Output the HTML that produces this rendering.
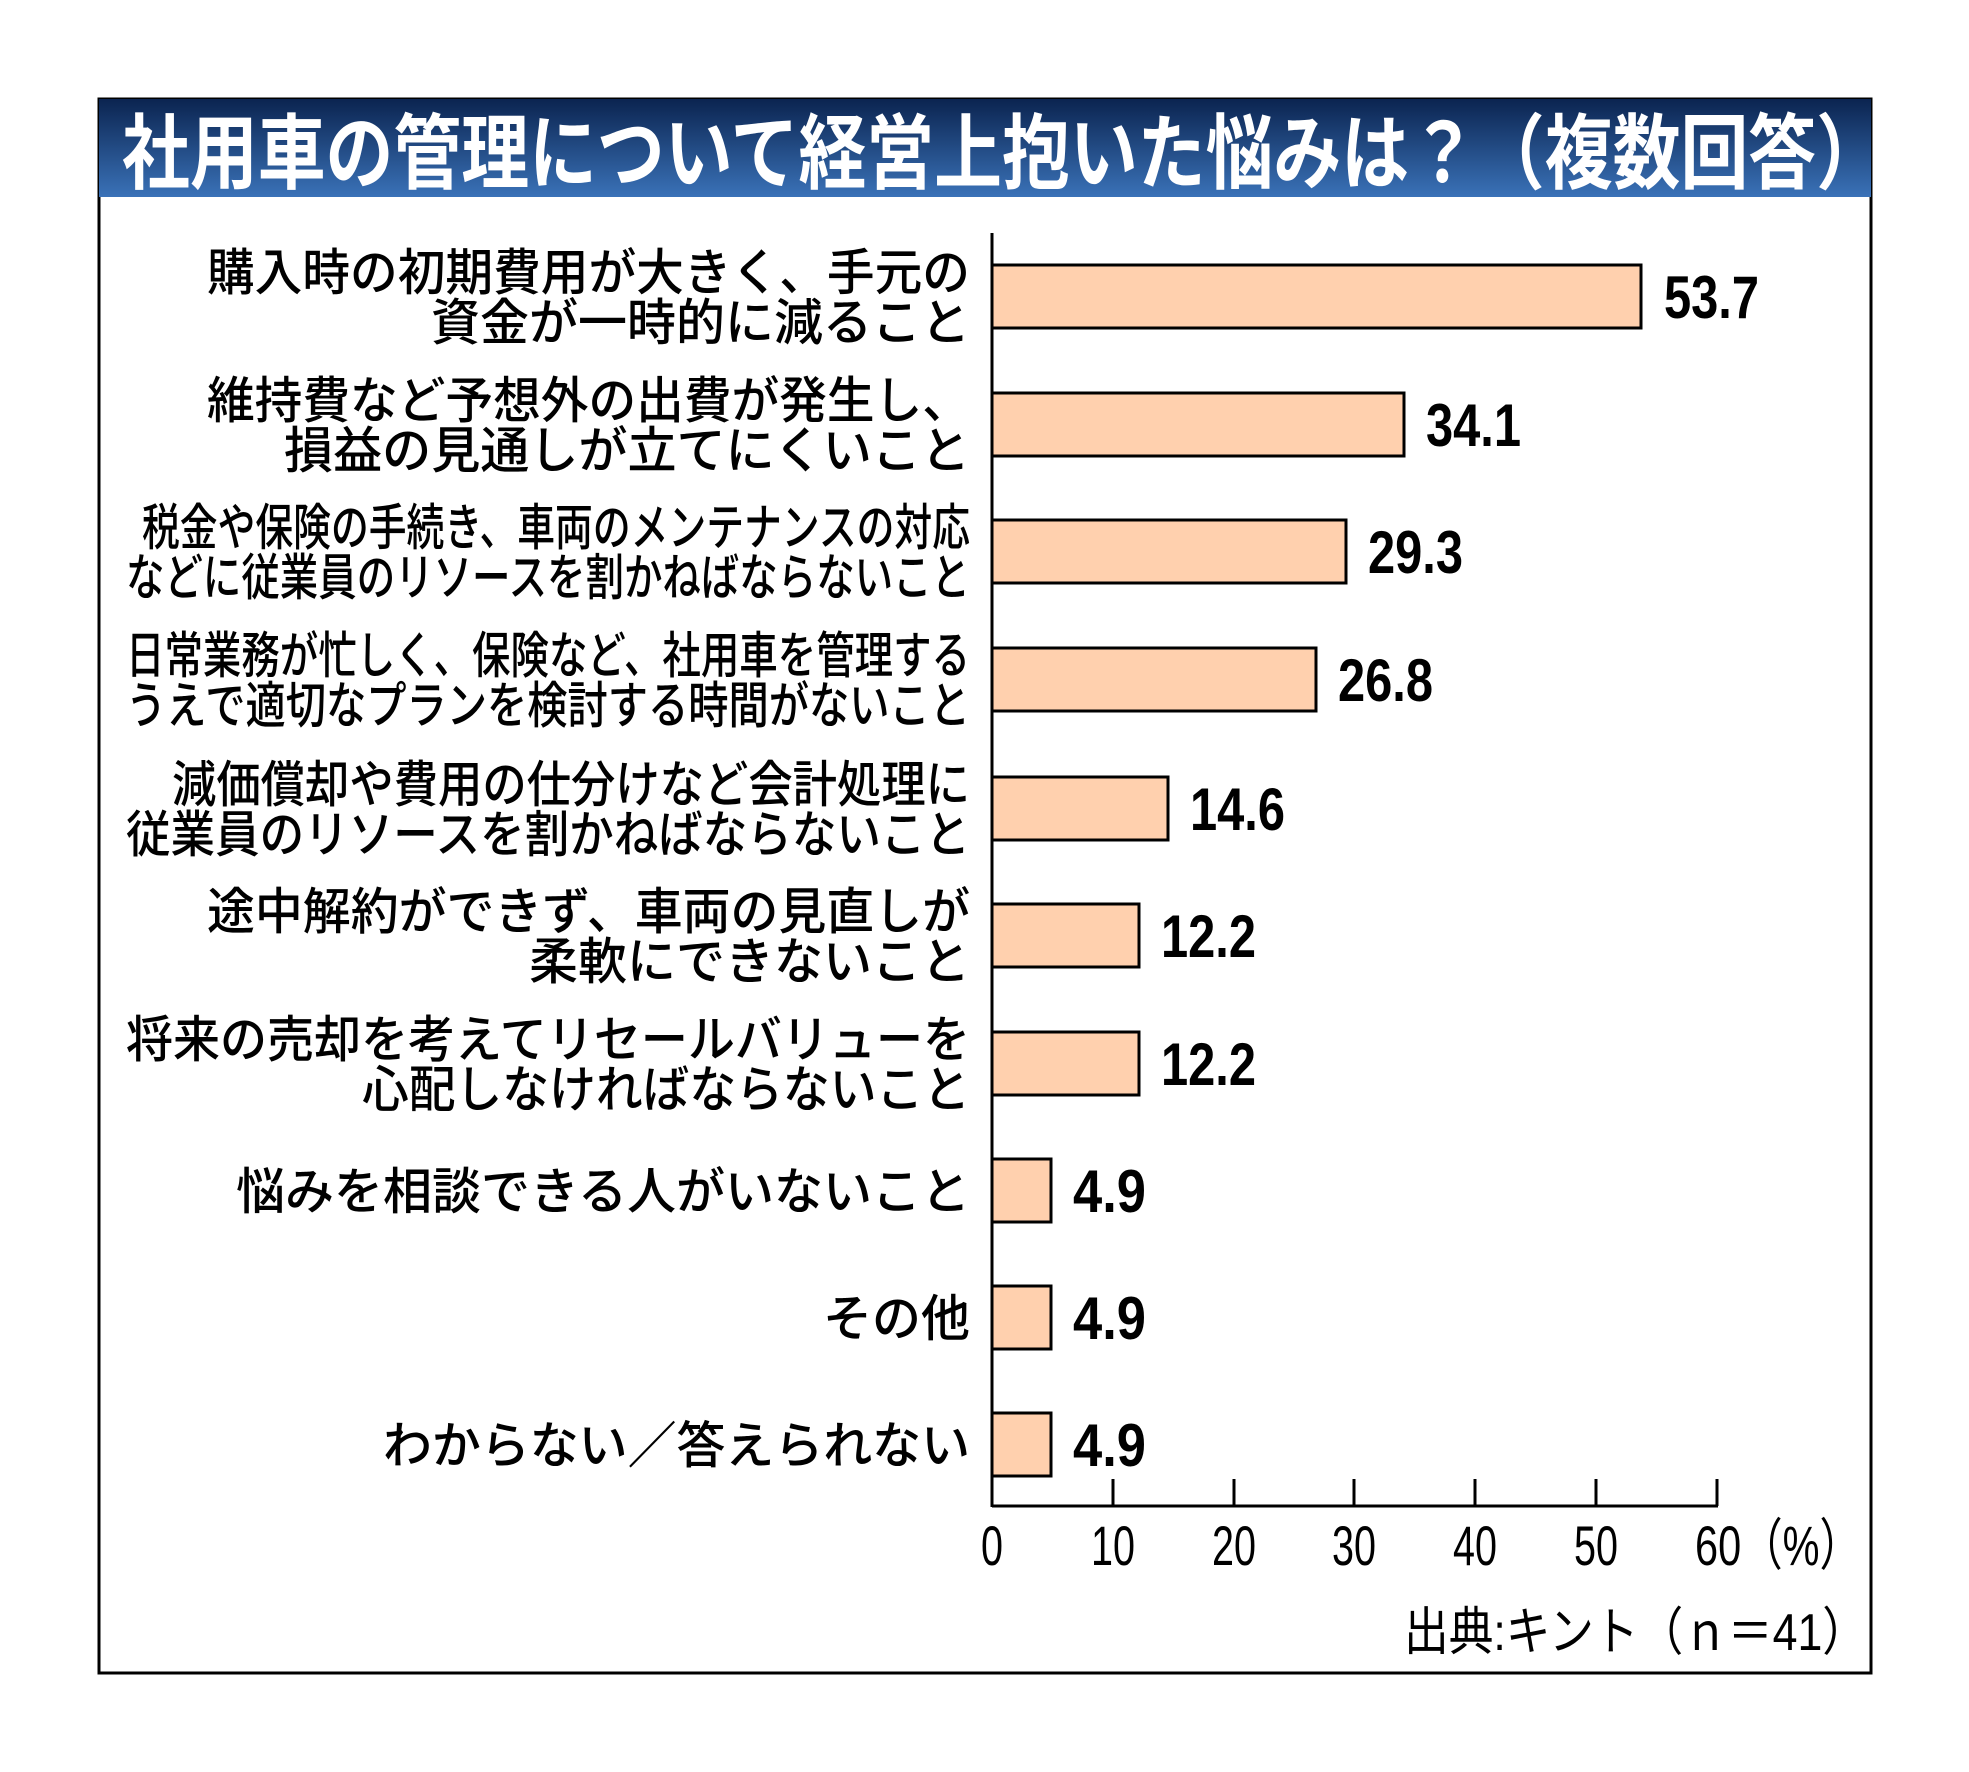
<!DOCTYPE html>
<html><head><meta charset="utf-8"><style>
html,body{margin:0;padding:0;background:#fff;}
svg{display:block;}
.lb{font-family:"Liberation Sans","Noto Sans CJK JP",sans-serif;font-weight:500;font-size:50px;fill:#000;}
.v{font-family:"Liberation Sans",sans-serif;font-weight:bold;font-size:60px;fill:#000;}
.t{font-family:"Liberation Sans","Noto Sans CJK JP",sans-serif;font-size:56px;fill:#000;}
</style></head><body>
<svg width="1969" height="1772" viewBox="0 0 1969 1772" xmlns="http://www.w3.org/2000/svg">
<defs><linearGradient id="g" x1="0" y1="0" x2="0" y2="1">
<stop offset="0" stop-color="#0b2450"/><stop offset="1" stop-color="#3a72b8"/></linearGradient></defs>
<rect x="0" y="0" width="1969" height="1772" fill="#fff"/>
<rect x="99" y="99" width="1772" height="1574" fill="#fff" stroke="#000" stroke-width="3"/>
<rect x="99" y="99" width="1772" height="98" fill="url(#g)"/>
<text x="122" y="182" textLength="1762" lengthAdjust="spacingAndGlyphs" style="font-family:'Liberation Sans','Noto Sans CJK JP',sans-serif;font-weight:bold;font-size:82px;fill:#fff">社用車の管理について経営上抱いた悩みは？（複数回答）</text>

<g fill="#FFD0AE" stroke="#000" stroke-width="3">
<rect x="992" y="265" width="649" height="63"/>
<rect x="992" y="393" width="412" height="63"/>
<rect x="992" y="520" width="354" height="63"/>
<rect x="992" y="648" width="324" height="63"/>
<rect x="992" y="777" width="176" height="63"/>
<rect x="992" y="904" width="147" height="63"/>
<rect x="992" y="1032" width="147" height="63"/>
<rect x="992" y="1159" width="59" height="63"/>
<rect x="992" y="1286" width="59" height="63"/>
<rect x="992" y="1413" width="59" height="63"/>
</g>
<g stroke="#000" stroke-width="3" fill="none">
<line x1="992" y1="233" x2="992" y2="1507"/>
<line x1="992" y1="1506" x2="1718" y2="1506"/>
<line x1="1113" y1="1479" x2="1113" y2="1506"/>
<line x1="1234" y1="1479" x2="1234" y2="1506"/>
<line x1="1354" y1="1479" x2="1354" y2="1506"/>
<line x1="1475" y1="1479" x2="1475" y2="1506"/>
<line x1="1596" y1="1479" x2="1596" y2="1506"/>
<line x1="1717" y1="1479" x2="1717" y2="1506"/>
</g>

<g class="v">
<text x="1664" y="318" textLength="95" lengthAdjust="spacingAndGlyphs">53.7</text>
<text x="1426" y="446" textLength="95" lengthAdjust="spacingAndGlyphs">34.1</text>
<text x="1368" y="573" textLength="95" lengthAdjust="spacingAndGlyphs">29.3</text>
<text x="1338" y="701" textLength="95" lengthAdjust="spacingAndGlyphs">26.8</text>
<text x="1190" y="830" textLength="95" lengthAdjust="spacingAndGlyphs">14.6</text>
<text x="1161" y="957" textLength="95" lengthAdjust="spacingAndGlyphs">12.2</text>
<text x="1161" y="1085" textLength="95" lengthAdjust="spacingAndGlyphs">12.2</text>
<text x="1073" y="1212" textLength="73" lengthAdjust="spacingAndGlyphs">4.9</text>
<text x="1073" y="1339" textLength="73" lengthAdjust="spacingAndGlyphs">4.9</text>
<text x="1073" y="1466" textLength="73" lengthAdjust="spacingAndGlyphs">4.9</text>
</g>

<g class="lb">
<text x="207" y="290" textLength="763" lengthAdjust="spacingAndGlyphs">購入時の初期費用が大きく、手元の</text>
<text x="431" y="340" textLength="539" lengthAdjust="spacingAndGlyphs">資金が一時的に減ること</text>
<text x="207" y="418" textLength="763" lengthAdjust="spacingAndGlyphs">維持費など予想外の出費が発生し、</text>
<text x="284" y="468" textLength="686" lengthAdjust="spacingAndGlyphs">損益の見通しが立てにくいこと</text>
<text x="142" y="545" textLength="828" lengthAdjust="spacingAndGlyphs">税金や保険の手続き、車両のメンテナンスの対応</text>
<text x="126" y="595" textLength="844" lengthAdjust="spacingAndGlyphs">などに従業員のリソースを割かねばならないこと</text>
<text x="126" y="673" textLength="844" lengthAdjust="spacingAndGlyphs">日常業務が忙しく、保険など、社用車を管理する</text>
<text x="126" y="723" textLength="844" lengthAdjust="spacingAndGlyphs">うえで適切なプランを検討する時間がないこと</text>
<text x="172" y="802" textLength="798" lengthAdjust="spacingAndGlyphs">減価償却や費用の仕分けなど会計処理に</text>
<text x="126" y="852" textLength="844" lengthAdjust="spacingAndGlyphs">従業員のリソースを割かねばならないこと</text>
<text x="207" y="929" textLength="763" lengthAdjust="spacingAndGlyphs">途中解約ができず、車両の見直しが</text>
<text x="529" y="979" textLength="441" lengthAdjust="spacingAndGlyphs">柔軟にできないこと</text>
<text x="126" y="1057" textLength="844" lengthAdjust="spacingAndGlyphs">将来の売却を考えてリセールバリューを</text>
<text x="362" y="1107" textLength="608" lengthAdjust="spacingAndGlyphs">心配しなければならないこと</text>
<text x="236" y="1209" textLength="734" lengthAdjust="spacingAndGlyphs">悩みを相談できる人がいないこと</text>
<text x="823" y="1336" textLength="147" lengthAdjust="spacingAndGlyphs">その他</text>
<text x="383" y="1463" textLength="587" lengthAdjust="spacingAndGlyphs">わからない／答えられない</text>
</g>

<g class="t">
<text x="981" y="1565" textLength="22" lengthAdjust="spacingAndGlyphs">0</text>
<text x="1091" y="1565" textLength="44" lengthAdjust="spacingAndGlyphs">10</text>
<text x="1212" y="1565" textLength="44" lengthAdjust="spacingAndGlyphs">20</text>
<text x="1332" y="1565" textLength="44" lengthAdjust="spacingAndGlyphs">30</text>
<text x="1453" y="1565" textLength="44" lengthAdjust="spacingAndGlyphs">40</text>
<text x="1574" y="1565" textLength="44" lengthAdjust="spacingAndGlyphs">50</text>
<text x="1695" y="1565" textLength="166" lengthAdjust="spacingAndGlyphs">60（%）</text>
<text x="1404" y="1650" textLength="463" lengthAdjust="spacingAndGlyphs" style="font-size:52px">出典:キント（ｎ＝41）</text>
</g>
</svg>
</body></html>
